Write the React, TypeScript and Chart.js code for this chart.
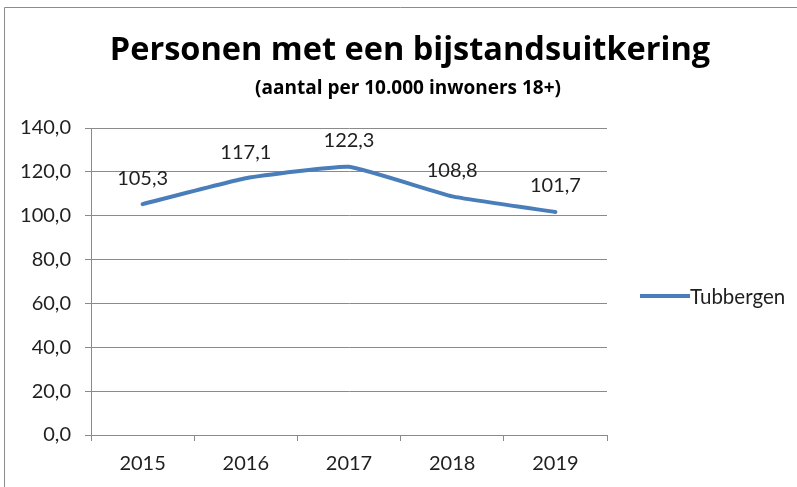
import React, { useEffect, useRef } from "react";
import { Chart, registerables } from "chart.js";

Chart.register(...registerables);

const categories = ["2015", "2016", "2017", "2018", "2019"];
const values = [105.3, 117.1, 122.3, 108.8, 101.7];
const seriesName = "Tubbergen";
const yMin = 0;
const yMax = 140;
const yStep = 20;
const titleText = "Personen met een bijstandsuitkering";
const subtitleText = "(aantal per 10.000 inwoners 18+)";

const FONT = "Lato, 'Open Sans', sans-serif";
const TFONT = "'Open Sans', Lato, sans-serif";
const TEXT = "#1f1f1f";
const GRID = "#8a8a8a";
const LINE = "#4a7ebb";

const fmt = (v: number) => v.toFixed(1).replace(".", ",");

const decorPlugin = {
  id: "decor",
  beforeDraw(chart: any) {
    const ctx = chart.ctx;
    ctx.save();
    ctx.fillStyle = "#ffffff";
    ctx.fillRect(0, 0, chart.width, chart.height);
    ctx.strokeStyle = "#8c8c8c";
    ctx.lineWidth = 1;
    ctx.beginPath();
    ctx.moveTo(4.5, chart.height);
    ctx.lineTo(4.5, 7.5);
    ctx.lineTo(chart.width, 7.5);
    ctx.stroke();
    ctx.fillStyle = "#000000";
    ctx.textAlign = "center";
    ctx.textBaseline = "alphabetic";
    ctx.font = `bold 32.5px ${TFONT}`;
    ctx.fillText(titleText, 410, 60);
    ctx.font = `bold 19px ${TFONT}`;
    ctx.fillText(subtitleText, 408, 94);
    ctx.restore();
  },
  afterDatasetsDraw(chart: any) {
    const ctx = chart.ctx;
    const meta = chart.getDatasetMeta(0);
    const data = chart.data.datasets[0].data as number[];
    ctx.save();
    ctx.fillStyle = TEXT;
    ctx.font = `20px ${FONT}`;
    ctx.textAlign = "center";
    ctx.textBaseline = "middle";
    meta.data.forEach((pt: any, i: number) => {
      ctx.fillText(fmt(data[i]), pt.x, pt.y - 26);
    });
    ctx.restore();
  },
  afterDraw(chart: any) {
    const ctx = chart.ctx;
    const ds = chart.data.datasets[0];
    ctx.save();
    ctx.strokeStyle = ds.borderColor;
    ctx.lineWidth = 4;
    ctx.beginPath();
    ctx.moveTo(640, 296);
    ctx.lineTo(690, 296);
    ctx.stroke();
    ctx.fillStyle = TEXT;
    ctx.font = `20.5px ${FONT}`;
    ctx.textAlign = "left";
    ctx.textBaseline = "middle";
    ctx.fillText(ds.label, 690, 297);
    ctx.restore();
  },
};

export default function App() {
  const ref = useRef<HTMLCanvasElement | null>(null);
  useEffect(() => {
    if (!ref.current) return;
    const chart = new Chart(ref.current, {
      type: "line",
      data: {
        labels: categories,
        datasets: [
          {
            label: seriesName,
            data: values,
            borderColor: LINE,
            backgroundColor: LINE,
            borderWidth: 4,
            pointRadius: 0,
            tension: 0.12,
            borderCapStyle: "round",
            fill: false,
          },
        ],
      },
      options: {
        responsive: false,
        animation: false,
        devicePixelRatio: 1,
        layout: { padding: { left: 0, top: 128, right: 190, bottom: 0 } },
        plugins: {
          legend: { display: false },
          title: { display: false },
          tooltip: { enabled: false },
        },
        scales: {
          x: {
            offset: true,
            afterFit: (s: any) => {
              s.height = 52;
            },
            grid: {
              offset: true,
              drawOnChartArea: false,
              drawTicks: true,
              tickLength: 6,
              color: GRID,
            },
            border: { color: GRID, width: 1 },
            ticks: {
              color: TEXT,
              font: { family: FONT, size: 20 },
              padding: 11,
              maxRotation: 0,
            },
          },
          y: {
            min: yMin,
            max: yMax,
            afterFit: (s: any) => {
              s.width = 91;
            },
            grid: {
              color: GRID,
              tickLength: 6,
              drawTicks: true,
            },
            border: { color: GRID, width: 1 },
            ticks: {
              stepSize: yStep,
              color: TEXT,
              font: { family: FONT, size: 20 },
              padding: 14,
              callback: (v: any) => fmt(Number(v)),
            },
          },
        },
      },
      plugins: [decorPlugin],
    } as any);
    return () => chart.destroy();
  }, []);
  return (
    <div style={{ position: "fixed", left: 0, top: 0, width: 797, height: 487, background: "#fff" }}>
      <canvas ref={ref} width={797} height={487} style={{ display: "block" }} />
    </div>
  );
}
